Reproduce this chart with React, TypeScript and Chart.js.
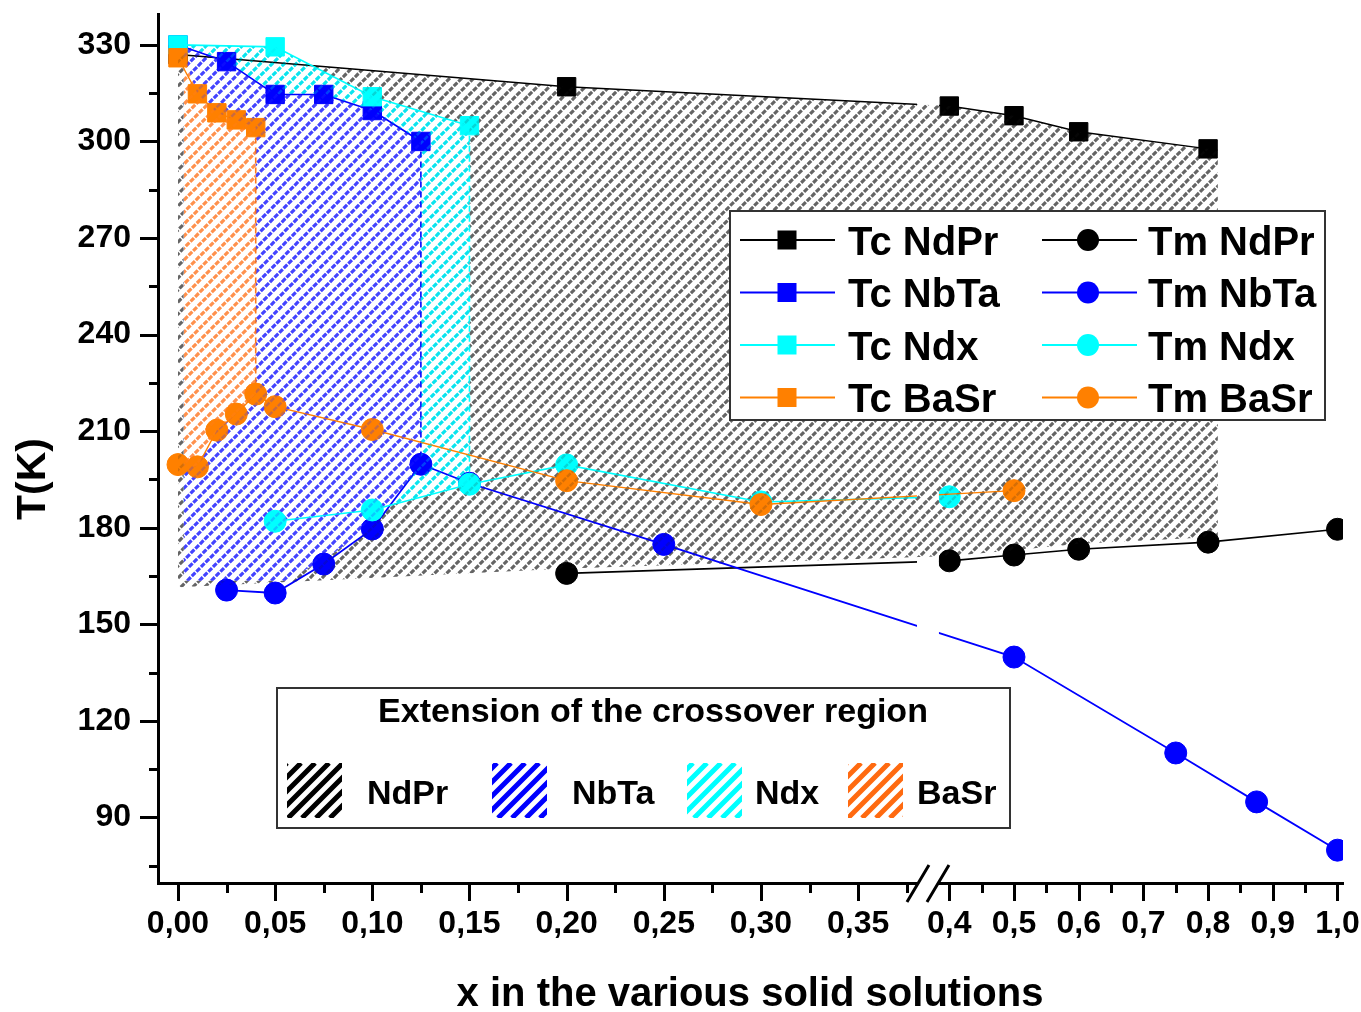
import React, { useEffect, useRef } from 'react';
import { Chart, registerables } from 'chart.js';

Chart.register(...registerables);

const FONT = '"Liberation Sans", Arial, Helvetica, sans-serif';

// ---------- broken x axis: lower part 0..0.385 linear, upper part 0.4..1.0 compressed ----------
const UPPER_START = 0.4;
const UPPER_START_U = 0.39692;
const UPPER_SCALE = 0.33296;
const toU = (x: number) => (x < 0.39 ? x : UPPER_START_U + (x - UPPER_START) * UPPER_SCALE);
const U_MIN = -0.01029;
const U_MAX = 0.59953;
const BREAK_GAP_U = [0.3803, 0.3916];

const Y_MIN = 69.6;
const Y_MAX = 339.6;

// ---------- tick values / labels ----------
const xTickValues = [0, 0.05, 0.1, 0.15, 0.2, 0.25, 0.3, 0.35, 0.4, 0.5, 0.6, 0.7, 0.8, 0.9, 1.0];
const xTickLabels = ['0,00', '0,05', '0,10', '0,15', '0,20', '0,25', '0,30', '0,35', '0,4', '0,5', '0,6', '0,7', '0,8', '0,9', '1,0'];
const xMinorTickValues = [0.025, 0.075, 0.125, 0.175, 0.225, 0.275, 0.325, 0.375, 0.45, 0.55, 0.65, 0.75, 0.85, 0.95];
const yTickValues = [90, 120, 150, 180, 210, 240, 270, 300, 330];
const yTickLabels = ['90', '120', '150', '180', '210', '240', '270', '300', '330'];
const yMinorTickValues = [75, 105, 135, 165, 195, 225, 255, 285, 315];

// ---------- series ----------
const tcNdPrX = [0, 0.2, 0.4, 0.5, 0.6, 0.8];
const tcNdPrY = [327, 317, 311, 308, 303, 297.7];
const tmNdPrX = [0.2, 0.4, 0.5, 0.6, 0.8, 1.0];
const tmNdPrY = [165.8, 169.7, 171.5, 173.3, 175.5, 179.5];

const tcNbTaX = [0, 0.025, 0.05, 0.075, 0.1, 0.125];
const tcNbTaY = [330, 324.8, 314.6, 314.6, 309.6, 300];
const tmNbTaX = [0.025, 0.05, 0.075, 0.1, 0.125, 0.15, 0.25, 0.5, 0.75, 0.875, 1.0];
const tmNbTaY = [160.6, 159.7, 168.7, 179.6, 199.7, 193.8, 174.8, 139.8, 110, 94.8, 79.8];

const tcNdxX = [0, 0.05, 0.1, 0.15];
const tcNdxY = [330, 329.4, 313.9, 304.9];
const tmNdxX = [0.05, 0.1, 0.15, 0.2, 0.3, 0.4];
const tmNdxY = [182, 185.5, 193.5, 199.5, 188, 189.6];

const tcBaSrX = [0, 0.01, 0.02, 0.03, 0.04];
const tcBaSrY = [326, 314.8, 308.9, 306.7, 304.3];
const tmBaSrX = [0, 0.01, 0.02, 0.03, 0.04, 0.05, 0.1, 0.2, 0.3, 0.5];
const tmBaSrY = [199.6, 198.9, 210.3, 215.3, 221.5, 217.6, 210.5, 194.6, 187.2, 191.5];

// ---------- crossover regions (hatched) ----------
const regionNdPrX = [0, 0.2, 0.4, 0.5, 0.6, 0.8, 0.815, 0.815, 0.8, 0.6, 0.5, 0.4, 0.2, 0.0];
const regionNdPrY = [327, 317, 311, 308, 303, 297.7, 297.5, 177, 177, 175, 173, 171.2, 167.3, 161.5];
const regionNbTaX = [0.003, 0.025, 0.05, 0.075, 0.1, 0.125, 0.125, 0.1, 0.075, 0.055, 0.003];
const regionNbTaY = [330, 324.8, 314.6, 314.6, 309.6, 300, 199.7, 180.5, 170, 163.5, 163.5];
const regionNdxX = [0.003, 0.05, 0.1, 0.15, 0.15, 0.1, 0.05, 0.003];
const regionNdxY = [330, 329.4, 313.9, 304.9, 193.5, 185.5, 182, 182];
const regionBaSrX = [0.003, 0.01, 0.02, 0.03, 0.04, 0.04, 0.03, 0.02, 0.01, 0.003];
const regionBaSrY = [326, 314.8, 308.9, 306.7, 304.3, 221.5, 215.3, 210.3, 198.9, 199.6];

const BLACK = '#000000';
const BLUE = '#0000ff';
const CYAN = '#00ffff';
const ORANGE = '#ff8000';

const regions = [
  { xs: regionNdPrX, ys: regionNdPrY, hatch: 'rgba(30,30,30,0.62)', edge: -1, edgeColor: BLACK },
  { xs: regionNdxX, ys: regionNdxY, hatch: 'rgba(0,228,238,0.95)', edge: 3, edgeColor: CYAN },
  { xs: regionNbTaX, ys: regionNbTaY, hatch: 'rgba(45,45,255,0.85)', edge: 5, edgeColor: BLUE },
  { xs: regionBaSrX, ys: regionBaSrY, hatch: 'rgba(255,125,45,0.8)', edge: 4, edgeColor: '#ff7a1a' },
];

const legendSwatches = [
  { label: 'NdPr', color: '#000000' },
  { label: 'NbTa', color: '#0000ff' },
  { label: 'Ndx', color: '#00ffff' },
  { label: 'BaSr', color: '#ff6a10' },
];

const pts = (xs: number[], ys: number[]) => xs.map((x, i) => ({ x: toU(x), y: ys[i] }));

function makeDataset(label: string, xs: number[], ys: number[], color: string, style: string, order: number, lw = 1.6) {
  return {
    label,
    data: pts(xs, ys),
    borderColor: color,
    backgroundColor: color,
    pointBackgroundColor: color,
    pointBorderColor: color,
    borderWidth: lw,
    pointStyle: style,
    pointRadius: style === 'rect' ? 13 : 11,
    pointBorderWidth: 1,
    tension: 0,
    fill: false,
    order,
  };
}

const HATCH_SP = 12;

function hatchPath(ctx: CanvasRenderingContext2D, minX: number, minY: number, maxX: number, maxY: number, sp: number) {
  ctx.beginPath();
  const c0 = Math.floor((minX + minY) / sp) * sp;
  for (let c = c0; c <= maxX + maxY + sp; c += sp) {
    ctx.moveTo(c - maxY, maxY);
    ctx.lineTo(c - minY, minY);
  }
}

function regionPixels(chart: any, r: any) {
  const xs = chart.scales.x;
  const ys = chart.scales.y;
  return r.xs.map((xv: number, i: number) => [xs.getPixelForValue(toU(xv)), ys.getPixelForValue(r.ys[i])]);
}

function polyPath(ctx: CanvasRenderingContext2D, p: number[][]) {
  p.forEach(([px, py], i) => (i ? ctx.lineTo(px, py) : ctx.moveTo(px, py)));
  ctx.closePath();
}

function drawHatch(ctx: CanvasRenderingContext2D, p: number[][], color: string, withFill: boolean, alpha: number, lw: number) {
  ctx.save();
  ctx.beginPath();
  polyPath(ctx, p);
  if (withFill) {
    ctx.fillStyle = '#ffffff';
    ctx.fill();
  }
  ctx.clip();
  const minX = Math.min(...p.map((q) => q[0]));
  const maxX = Math.max(...p.map((q) => q[0]));
  const minY = Math.min(...p.map((q) => q[1]));
  const maxY = Math.max(...p.map((q) => q[1]));
  ctx.globalAlpha = alpha;
  ctx.strokeStyle = color;
  ctx.lineWidth = lw;
  ctx.setLineDash([5, 1.5]);
  hatchPath(ctx, minX, minY, maxX, maxY, HATCH_SP);
  ctx.stroke();
  ctx.restore();
}

const hatchPlugin = {
  id: 'hatchRegions',
  beforeDatasetsDraw(chart: any) {
    const { ctx, chartArea } = chart;
    ctx.save();
    ctx.beginPath();
    ctx.rect(chartArea.left, chartArea.top, chartArea.right - chartArea.left, chartArea.bottom - chartArea.top);
    ctx.clip();
    for (const r of regions) {
      const p = regionPixels(chart, r);
      drawHatch(ctx, p, r.hatch, true, 1, 3.2);
      if (r.edge >= 0) {
        ctx.save();
        ctx.strokeStyle = r.edgeColor;
        ctx.lineWidth = 1.6;
        ctx.setLineDash([6, 4]);
        ctx.beginPath();
        ctx.moveTo(p[r.edge][0], p[r.edge][1]);
        ctx.lineTo(p[r.edge + 1][0], p[r.edge + 1][1]);
        ctx.stroke();
        ctx.restore();
      }
    }
    ctx.restore();
  },
  afterDatasetsDraw(chart: any) {
    // faint hatch over the markers lying inside the regions (only where each region is visible)
    const { ctx, chartArea, width, height } = chart;
    const all = regions.map((r) => regionPixels(chart, r));
    ctx.save();
    ctx.beginPath();
    ctx.rect(chartArea.left, chartArea.top, chartArea.right - chartArea.left, chartArea.bottom - chartArea.top);
    ctx.clip();
    regions.forEach((r, i) => {
      ctx.save();
      for (let j = i + 1; j < all.length; j++) {
        ctx.beginPath();
        ctx.rect(0, 0, width, height);
        polyPath(ctx, all[j]);
        ctx.clip('evenodd');
      }
      drawHatch(ctx, all[i], r.hatch, false, 0.3, 2.5);
      ctx.restore();
    });
    ctx.restore();
  },
};

const breakClipPlugin = {
  id: 'breakClip',
  beforeDatasetDraw(chart: any) {
    const { ctx, width, height, scales } = chart;
    const b0 = scales.x.getPixelForValue(BREAK_GAP_U[0]);
    const b1 = scales.x.getPixelForValue(BREAK_GAP_U[1]);
    ctx.save();
    ctx.beginPath();
    ctx.rect(0, 0, b0, height);
    ctx.rect(b1, 0, width - b1, height);
    ctx.clip();
  },
  afterDatasetDraw(chart: any) {
    chart.ctx.restore();
  },
};

const axisDecorPlugin = {
  id: 'axisDecor',
  afterDraw(chart: any) {
    const { ctx, chartArea, scales } = chart;
    const xs = scales.x;
    const ys = scales.y;
    const axX = chartArea.left;
    const axY = chartArea.bottom;
    ctx.save();
    ctx.strokeStyle = '#000';
    ctx.lineWidth = 3;
    ctx.setLineDash([]);
    ctx.beginPath();
    for (const v of yTickValues) {
      const py = Math.round(ys.getPixelForValue(v)) + 0.5;
      ctx.moveTo(axX - 18, py);
      ctx.lineTo(axX, py);
    }
    for (const v of yMinorTickValues) {
      const py = Math.round(ys.getPixelForValue(v)) + 0.5;
      ctx.moveTo(axX - 9, py);
      ctx.lineTo(axX, py);
    }
    for (const v of xTickValues) {
      const px = Math.round(xs.getPixelForValue(toU(v))) + 0.5;
      ctx.moveTo(px, axY);
      ctx.lineTo(px, axY + 18);
    }
    for (const v of xMinorTickValues) {
      const px = Math.round(xs.getPixelForValue(toU(v))) + 0.5;
      ctx.moveTo(px, axY);
      ctx.lineTo(px, axY + 10);
    }
    ctx.stroke();

    // axis break marks
    const b0 = xs.getPixelForValue(BREAK_GAP_U[0]);
    const b1 = xs.getPixelForValue(BREAK_GAP_U[1]);
    const bc = (b0 + b1) / 2;
    ctx.fillStyle = '#fff';
    ctx.beginPath();
    ctx.moveTo(bc - 21, axY + 19);
    ctx.lineTo(bc + 1, axY - 18);
    ctx.lineTo(bc + 21, axY - 18);
    ctx.lineTo(bc - 1, axY + 19);
    ctx.closePath();
    ctx.save();
    ctx.clip();
    ctx.fillRect(bc - 30, axY - 4, 60, 8);
    ctx.restore();
    ctx.lineWidth = 3;
    ctx.beginPath();
    ctx.moveTo(bc - 21, axY + 19);
    ctx.lineTo(bc + 1, axY - 18);
    ctx.moveTo(bc - 1, axY + 19);
    ctx.lineTo(bc + 21, axY - 18);
    ctx.stroke();

    // axis titles
    ctx.fillStyle = '#000';
    ctx.font = `bold 41px ${FONT}`;
    ctx.textAlign = 'center';
    ctx.textBaseline = 'alphabetic';
    ctx.save();
    ctx.translate(45, 479);
    ctx.rotate(-Math.PI / 2);
    ctx.fillText('T(K)', 0, 0);
    ctx.restore();
    ctx.font = `bold 40px ${FONT}`;
    ctx.fillText('x in the various solid solutions', 750, 1006);
    ctx.restore();
  },
};

function drawMarker(ctx: CanvasRenderingContext2D, style: string, x: number, y: number, color: string) {
  ctx.fillStyle = color;
  if (style === 'rect') {
    ctx.fillRect(x - 9.5, y - 9.5, 19, 19);
  } else {
    ctx.beginPath();
    ctx.arc(x, y, 11, 0, Math.PI * 2);
    ctx.fill();
  }
}

const legendPlugin = {
  id: 'customLegends',
  afterDraw(chart: any) {
    const { ctx } = chart;
    const ds = chart.data.datasets;
    ctx.save();
    // series legend
    ctx.fillStyle = '#fff';
    ctx.fillRect(730, 211, 595, 209);
    ctx.strokeStyle = '#333';
    ctx.lineWidth = 2;
    ctx.strokeRect(730, 211, 595, 209);
    const rowY = [240, 292.5, 345, 397.5];
    const cols = [
      { l0: 740, l1: 835, m: 787, t: 848 },
      { l0: 1042, l1: 1137, m: 1088, t: 1148 },
    ];
    ctx.font = `bold 40px ${FONT}`;
    ctx.textAlign = 'left';
    ctx.textBaseline = 'alphabetic';
    ds.forEach((d: any, i: number) => {
      const c = cols[i < 4 ? 0 : 1];
      const y = rowY[i % 4];
      ctx.strokeStyle = d.borderColor;
      ctx.lineWidth = 2;
      ctx.beginPath();
      ctx.moveTo(c.l0, y);
      ctx.lineTo(c.l1, y);
      ctx.stroke();
      drawMarker(ctx, d.pointStyle, c.m, y, d.pointBackgroundColor);
      ctx.fillStyle = '#000';
      ctx.fillText(d.label, c.t, y + 14.5);
    });

    // regions legend
    ctx.fillStyle = '#fff';
    ctx.fillRect(277, 688, 733, 140);
    ctx.strokeStyle = '#333';
    ctx.lineWidth = 2;
    ctx.strokeRect(277, 688, 733, 140);
    ctx.fillStyle = '#000';
    ctx.font = `bold 34px ${FONT}`;
    ctx.textAlign = 'center';
    ctx.fillText('Extension of the crossover region', 653, 722);
    const swX = [287, 492, 687, 848];
    const labX = [367, 572, 755, 917];
    ctx.textAlign = 'left';
    legendSwatches.forEach((s, i) => {
      ctx.save();
      ctx.beginPath();
      ctx.rect(swX[i], 763, 55, 55);
      ctx.clip();
      ctx.strokeStyle = s.color;
      ctx.lineWidth = 5;
      hatchPath(ctx, swX[i] - 20, 763, swX[i] + 75, 818, 14);
      ctx.stroke();
      ctx.restore();
      ctx.fillStyle = '#000';
      ctx.fillText(s.label, labX[i], 804);
    });
    ctx.restore();
  },
};

export default function App() {
  const canvasRef = useRef<HTMLCanvasElement | null>(null);

  useEffect(() => {
    if (!canvasRef.current) return;
    const datasets = [
      makeDataset('Tc NdPr', tcNdPrX, tcNdPrY, BLACK, 'rect', 3, 1.4),
      makeDataset('Tc NbTa', tcNbTaX, tcNbTaY, BLUE, 'rect', 2, 1.6),
      makeDataset('Tc Ndx', tcNdxX, tcNdxY, CYAN, 'rect', 1, 1.6),
      makeDataset('Tc BaSr', tcBaSrX, tcBaSrY, ORANGE, 'rect', 0, 1.4),
      makeDataset('Tm NdPr', tmNdPrX, tmNdPrY, BLACK, 'circle', 3, 1.6),
      makeDataset('Tm NbTa', tmNbTaX, tmNbTaY, BLUE, 'circle', 2, 1.8),
      makeDataset('Tm Ndx', tmNdxX, tmNdxY, CYAN, 'circle', 1, 1.6),
      makeDataset('Tm BaSr', tmBaSrX, tmBaSrY, ORANGE, 'circle', 0, 1.4),
    ];
    const tickFont = { family: FONT, size: 32, weight: 'bold' as const };
    const zeroPad = (s: any) => {
      s.paddingTop = 0;
      s.paddingBottom = 0;
      s.paddingLeft = 0;
      s.paddingRight = 0;
    };
    const chart = new Chart(canvasRef.current, {
      type: 'line',
      data: { datasets: datasets as any },
      options: {
        animation: false,
        responsive: false,
        maintainAspectRatio: false,
        layout: { padding: { top: 13, right: 18, left: 0, bottom: 0 } },
        plugins: {
          legend: { display: false },
          tooltip: { enabled: false },
          title: { display: false },
        },
        scales: {
          x: {
            type: 'linear',
            min: U_MIN,
            max: U_MAX,
            afterFit(s: any) {
              s.height = 129;
              zeroPad(s);
            },
            afterBuildTicks(s: any) {
              s.ticks = xTickValues.map((v) => ({ value: toU(v) }));
            },
            grid: { display: false, drawTicks: false },
            border: { display: true, width: 3, color: '#000' },
            ticks: {
              autoSkip: false,
              maxRotation: 0,
              minRotation: 0,
              padding: 22,
              color: '#000',
              font: tickFont,
              callback: (_v: any, i: number) => xTickLabels[i],
            },
          },
          y: {
            type: 'linear',
            min: Y_MIN,
            max: Y_MAX,
            afterFit(s: any) {
              s.width = 158;
              zeroPad(s);
            },
            afterBuildTicks(s: any) {
              s.ticks = yTickValues.map((v) => ({ value: v }));
            },
            grid: { display: false, drawTicks: false },
            border: { display: true, width: 3, color: '#000' },
            ticks: {
              autoSkip: false,
              padding: 27,
              color: '#000',
              font: tickFont,
              callback: (_v: any, i: number) => yTickLabels[i],
            },
          },
        },
      } as any,
      plugins: [hatchPlugin, breakClipPlugin, axisDecorPlugin, legendPlugin],
    });
    return () => chart.destroy();
  }, []);

  return (
    <div style={{ position: 'fixed', left: 0, top: 0, width: 1361, height: 1012, background: '#fff' }}>
      <canvas ref={canvasRef} width={1361} height={1012} style={{ display: 'block' }} />
    </div>
  );
}
